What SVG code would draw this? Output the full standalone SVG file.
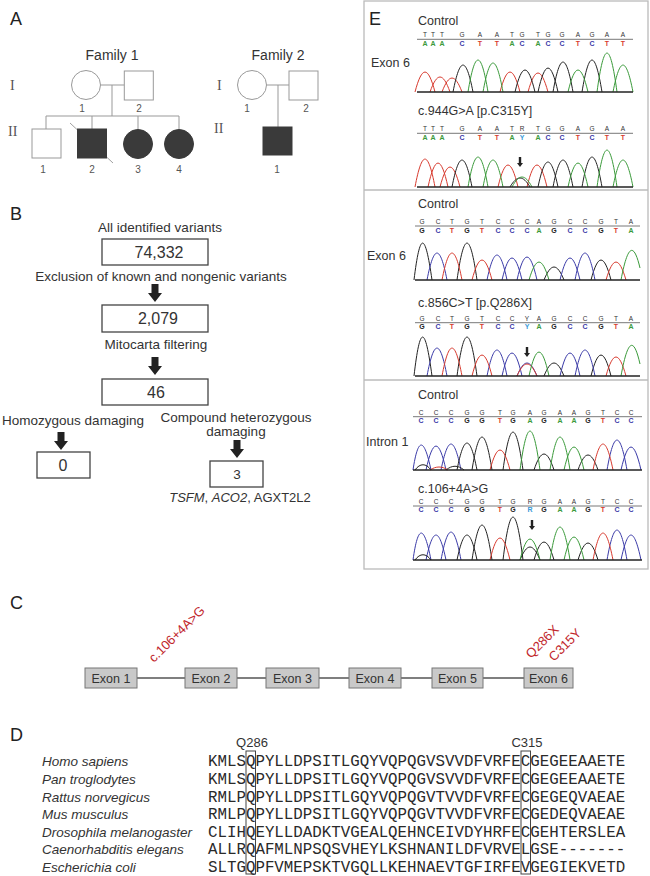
<svg xmlns="http://www.w3.org/2000/svg" width="650" height="876" viewBox="0 0 650 876">
<style>
text{font-family:"Liberation Sans",Arial,sans-serif}
.panel{font-size:18px;fill:#222}
.ped{fill:#fff;stroke:#999;stroke-width:1}
.pl{fill:none;stroke:#999;stroke-width:1}
.aff{fill:#3a3a3a;stroke:#3a3a3a;stroke-width:1}
.num{font-size:10px;fill:#555;text-anchor:middle}
.roman{font-family:"Liberation Serif","Times New Roman",serif;font-size:14px;fill:#555}
.fam{font-size:14px;text-anchor:middle;fill:#333}
.box{fill:#fff;stroke:#444;stroke-width:1.3}
.bl{font-size:13.5px;text-anchor:middle;fill:#333}
.bn{font-size:16px;text-anchor:middle;fill:#333}
.exon{fill:#c9c9c9;stroke:#777;stroke-width:1}
.et{font-size:12.5px;text-anchor:middle;fill:#333}
.mut{font-size:13px;fill:#c1272d}
.sp{font-size:13.5px;font-style:italic;fill:#333}
.seq{font-family:"Liberation Mono","Courier New",monospace;font-size:15.8px;fill:#2a2a2a}
.el{font-size:12.5px;fill:#333}
.ebox{fill:none;stroke:#bbb;stroke-width:1.3}
.tk{fill:none;stroke:#222;stroke-width:1}
.tg{fill:none;stroke:#3a9a3a;stroke-width:1}
.tr{fill:none;stroke:#d83a2e;stroke-width:1}
.tb{fill:none;stroke:#3a3aa8;stroke-width:1}
.axis{stroke:#222;stroke-width:1.6}
.sl{stroke:#555;stroke-width:0.8}
.bs{font-size:6.5px;fill:#333;text-anchor:middle}
.bb{font-size:7px;font-weight:bold;text-anchor:middle}
.cA{fill:#3a9a3a}.cC{fill:#3a3aa8}.cG{fill:#222}.cT{fill:#d83a2e}.cN{fill:#3a9ad9}
.qbox{fill:none;stroke:#444;stroke-width:1}
</style>
<defs>
<path id="bigArrow" d="M-3.5,0 H3.5 V9 H7 L0,18 L-7,9 H-3.5 Z" fill="#222"/>
<path id="smArrow" d="M-1.2,0 H1.2 V6 H3 L0,10 L-3,6 H-1.2 Z" fill="#222"/>
</defs>

<!-- Panel labels -->
<text class="panel" x="10" y="25">A</text>
<text class="panel" x="10" y="220">B</text>
<text class="panel" x="10" y="609">C</text>
<text class="panel" x="10" y="741">D</text>

<!-- Panel A -->
<text class="fam" x="112" y="60">Family 1</text>
<text class="fam" x="278" y="60">Family 2</text>
<text class="roman" x="10" y="90">I</text>
<text class="roman" x="8" y="136">II</text>
<text class="roman" x="217" y="90">I</text>
<text class="roman" x="214" y="133">II</text>

<g id="connectors">
  <line class="pl" x1="100.5" y1="85" x2="124.3" y2="85"/>
  <line class="pl" x1="112" y1="85" x2="112" y2="116"/>
  <line class="pl" x1="46" y1="116" x2="179" y2="116"/>
  <line class="pl" x1="46" y1="116" x2="46" y2="129"/>
  <line class="pl" x1="92" y1="116" x2="92" y2="129"/>
  <line class="pl" x1="138" y1="116" x2="138" y2="129.5"/>
  <line class="pl" x1="179" y1="116" x2="179" y2="129.5"/>
  <line class="pl" x1="266.5" y1="85" x2="289" y2="85"/>
  <line class="pl" x1="278" y1="85" x2="278" y2="127"/>
  <use href="#bigArrow" x="155" y="284"/>
  <use href="#bigArrow" x="155" y="357"/>
  <use href="#bigArrow" x="61" y="432"/>
  <use href="#bigArrow" x="237" y="440"/>
  <line x1="137" y1="678" x2="524" y2="678" stroke="#555" stroke-width="1.3"/>
</g>

<g id="f1-I-1"><circle class="ped" cx="86" cy="85" r="14.5"/><text class="num" x="82" y="112">1</text></g>
<g id="f1-I-2"><rect class="ped" x="124.3" y="71" width="29" height="29"/><text class="num" x="139" y="112">2</text></g>
<g id="f1-II-1"><rect class="ped" x="32" y="129" width="29" height="29"/><text class="num" x="43" y="173">1</text></g>
<g id="f1-II-2"><line x1="70" y1="123" x2="113" y2="163" stroke="#888" stroke-width="0.8"/><rect class="aff" x="77.5" y="129" width="29" height="29"/><text class="num" x="92" y="173">2</text></g>
<g id="f1-II-3"><circle class="aff" cx="138" cy="144" r="14.5"/><text class="num" x="138" y="173">3</text></g>
<g id="f1-II-4"><circle class="aff" cx="179" cy="144" r="14.5"/><text class="num" x="179" y="173">4</text></g>
<g id="f2-I-1"><circle class="ped" cx="252" cy="85" r="14.5"/><text class="num" x="247" y="112">1</text></g>
<g id="f2-I-2"><rect class="ped" x="289" y="71" width="29" height="29"/><text class="num" x="306" y="112">2</text></g>
<g id="f2-II-1"><rect class="aff" x="263" y="127" width="29" height="28"/><text class="num" x="277" y="173">1</text></g>

<!-- Panel B -->
<g id="b-all"><text class="bl" x="160" y="232">All identified variants</text><rect class="box" x="102" y="239" width="106" height="26"/><text class="bn" x="159" y="258">74,332</text></g>
<g id="b-excl"><text class="bl" x="161" y="281">Exclusion of known and nongenic variants</text><rect class="box" x="102" y="305" width="106" height="27"/><text class="bn" x="158" y="324">2,079</text></g>
<g id="b-mito"><text class="bl" x="156" y="349">Mitocarta filtering</text><rect class="box" x="102" y="379" width="106" height="26"/><text class="bn" x="156" y="398">46</text></g>
<g id="b-homo"><text class="bl" x="73" y="425">Homozygous damaging</text><rect class="box" x="37" y="452" width="53" height="26"/><text class="bn" x="63" y="471">0</text></g>
<g id="b-comp"><text class="bl" x="236" y="422">Compound heterozygous</text><text class="bl" x="236" y="436">damaging</text><rect class="box" x="210" y="461" width="53" height="26"/><text class="bl" x="237" y="479">3</text><text class="bl" x="240" y="502" style="font-size:13px"><tspan font-style="italic">TSFM</tspan>, <tspan font-style="italic">ACO2</tspan>, AGXT2L2</text></g>

<!-- Panel E -->
<g id="panelE">
<rect class="ebox" x="364" y="1" width="284" height="568"/>
<line class="ebox" x1="364" y1="190" x2="648" y2="190"/>
<line class="ebox" x1="364" y1="380" x2="648" y2="380"/>
<text class="panel" x="369" y="25">E</text>
</g>

<g id="e-exon6-c315y">
<text class="el" x="418" y="25">Control</text>
<text class="el" x="371" y="67">Exon 6</text>
<line class="sl" x1="417" y1="39.3" x2="633" y2="39.3"/>
<text class="bs" x="425 433 442 462 480 497 512 522 538 548 562 578 592 607 623" y="37">TTTGAATGTGGAGAA</text>
<text class="bb" y="45.5"><tspan x="425" class="cA">A</tspan><tspan x="433" class="cA">A</tspan><tspan x="442" class="cA">A</tspan><tspan x="462" class="cC">C</tspan><tspan x="480" class="cT">T</tspan><tspan x="497" class="cT">T</tspan><tspan x="512" class="cA">A</tspan><tspan x="522" class="cC">C</tspan><tspan x="538" class="cA">A</tspan><tspan x="548" class="cC">C</tspan><tspan x="562" class="cC">C</tspan><tspan x="578" class="cT">T</tspan><tspan x="592" class="cC">C</tspan><tspan x="607" class="cT">T</tspan><tspan x="623" class="cT">T</tspan></text>
<path class="tr" d="M415,92 C422,65.4 428,65.4 435,92 M430,92 C437,72 443,72 450,92 M442,92 C449,73.4 455,73.4 462,92 M500,92 C507,65.4 513,65.4 520,92 M528,92 C535,66.7 541,66.7 548,92"/>
<path class="tk" d="M453,92 C460,56.1 466,56.1 473,92 M515,92 C522,62.7 528,62.7 535,92 M538,92 C545,60.1 551,60.1 558,92 M553,92 C560,52.1 566,52.1 573,92 M582,92 C589,49.4 595,49.4 602,92"/>
<path class="tg" d="M468,92 C475,49.4 481,49.4 488,92 M483,92 C490,53.4 496,53.4 503,92 M568,92 C575,62.7 581,62.7 588,92 M597,92 C604,40.1 610,40.1 617,92 M613,92 C620,56.1 626,56.1 633,92"/>
<line class="axis" x1="417" y1="92" x2="633" y2="92"/>

<text class="el" x="418" y="115">c.944G&gt;A [p.C315Y]</text>
<line class="sl" x1="417" y1="133.3" x2="633" y2="133.3"/>
<text class="bs" x="425 433 442 462 480 497 512 522 538 548 562 578 592 607 623" y="131">TTTGAATRTGGAGAA</text>
<text class="bb" y="139.5"><tspan x="425" class="cA">A</tspan><tspan x="433" class="cA">A</tspan><tspan x="442" class="cA">A</tspan><tspan x="462" class="cC">C</tspan><tspan x="480" class="cT">T</tspan><tspan x="497" class="cT">T</tspan><tspan x="512" class="cA">A</tspan><tspan x="522" class="cN">Y</tspan><tspan x="538" class="cA">A</tspan><tspan x="548" class="cC">C</tspan><tspan x="562" class="cC">C</tspan><tspan x="578" class="cT">T</tspan><tspan x="592" class="cC">C</tspan><tspan x="607" class="cT">T</tspan><tspan x="623" class="cT">T</tspan></text>
<path class="tr" d="M415,187 C422,149.8 428,149.8 435,187 M428,187 C435,155.1 441,155.1 448,187 M440,187 C447,160.4 453,160.4 460,187 M498,187 C505,157.7 511,157.7 518,187 M527,187 C534,157.7 540,157.7 547,187"/>
<path class="tk" d="M452,187 C459,151.1 465,151.1 472,187 M510,187 C517,175 523,175 530,187 M538,187 C545,153.75 551,153.75 558,187 M553,187 C560,151.1 566,151.1 573,187 M582,187 C589,147.1 595,147.1 602,187"/>
<path class="tg" d="M468,187 C475,147.1 481,147.1 488,187 M483,187 C490,151.1 496,151.1 503,187 M512,187 C519,173.7 525,173.7 532,187 M568,187 C575,155.1 581,155.1 588,187 M597,187 C604,137.8 610,137.8 617,187 M613,187 C620,151.1 626,151.1 633,187"/>
<line class="axis" x1="417" y1="187" x2="633" y2="187"/>
<use href="#smArrow" x="520" y="157"/>
</g>

<g id="e-exon6-q286x">
<text class="el" x="418" y="208">Control</text>
<text class="el" x="367" y="260">Exon 6</text>
<line class="sl" x1="415" y1="226" x2="640" y2="226"/>
<text class="bs" x="422 438 452 467 482 498 512 527 539 554 570 585 601 616 631" y="224">GCTGTCCCAGCCGTA</text>
<text class="bb" y="232.5"><tspan x="422" class="cG">G</tspan><tspan x="438" class="cC">C</tspan><tspan x="452" class="cT">T</tspan><tspan x="467" class="cG">G</tspan><tspan x="482" class="cT">T</tspan><tspan x="498" class="cC">C</tspan><tspan x="512" class="cC">C</tspan><tspan x="527" class="cC">C</tspan><tspan x="539" class="cA">A</tspan><tspan x="554" class="cG">G</tspan><tspan x="570" class="cC">C</tspan><tspan x="585" class="cC">C</tspan><tspan x="601" class="cG">G</tspan><tspan x="616" class="cT">T</tspan><tspan x="631" class="cA">A</tspan></text>
<path class="tk" d="M414,280 C420,230.8 425,230.8 432,280 M457,280 C464,230.8 470,230.8 477,280 M544,280 C551,262.7 557,262.7 564,280 M591,280 C598,253.4 604,253.4 611,280"/>
<path class="tb" d="M427,280 C434,244.1 440,244.1 447,280 M487,280 C494,246.75 500,246.75 507,280 M502,280 C509,250.7 515,250.7 522,280 M517,280 C524,249.4 530,249.4 537,280 M560,280 C567,250.7 573,250.7 580,280 M575,280 C582,244.1 588,244.1 595,280"/>
<path class="tr" d="M442,280 C449,244.1 455,244.1 462,280 M472,280 C479,253.4 485,253.4 492,280 M606,280 C613,256.1 619,256.1 626,280"/>
<path class="tg" d="M529,280 C536,256.1 542,256.1 549,280 M621,280 C628,242.8 634,242.8 640,268"/>
<line class="axis" x1="415" y1="280" x2="640" y2="280"/>

<text class="el" x="418" y="307">c.856C&gt;T [p.Q286X]</text>
<line class="sl" x1="415" y1="322.7" x2="640" y2="322.7"/>
<text class="bs" x="422 438 452 467 482 498 512 527 539 554 570 585 601 616 631" y="321">GCTGTCCYAGCCGTA</text>
<text class="bb" y="329"><tspan x="422" class="cG">G</tspan><tspan x="438" class="cC">C</tspan><tspan x="452" class="cT">T</tspan><tspan x="467" class="cG">G</tspan><tspan x="482" class="cT">T</tspan><tspan x="498" class="cC">C</tspan><tspan x="512" class="cC">C</tspan><tspan x="527" class="cN">Y</tspan><tspan x="539" class="cA">A</tspan><tspan x="554" class="cG">G</tspan><tspan x="570" class="cC">C</tspan><tspan x="585" class="cC">C</tspan><tspan x="601" class="cG">G</tspan><tspan x="616" class="cT">T</tspan><tspan x="631" class="cA">A</tspan></text>
<path class="tk" d="M414,376 C420,324.1 425,324.1 432,376 M457,376 C464,324.1 470,324.1 477,376 M544,376 C551,358.7 557,358.7 564,376 M591,376 C598,348.1 604,348.1 611,376"/>
<path class="tb" d="M427,376 C434,338.8 440,338.8 447,376 M487,376 C494,341.4 500,341.4 507,376 M502,376 C509,345.4 515,345.4 522,376 M517,376 C524,358.7 530,358.7 537,376 M560,376 C567,345.4 573,345.4 580,376 M575,376 C582,341.4 588,341.4 595,376"/>
<path class="tr" d="M442,376 C449,338.8 455,338.8 462,376 M472,376 C479,348.1 485,348.1 492,376 M517,376 C524,360 530,360 537,376 M606,376 C613,350.7 619,350.7 626,376"/>
<path class="tg" d="M529,376 C536,344.1 542,344.1 549,376 M621,376 C628,337.4 634,337.4 640,364"/>
<line class="axis" x1="415" y1="376" x2="640" y2="376"/>
<use href="#smArrow" x="527" y="347"/>
</g>

<g id="e-intron1">
<text class="el" x="418" y="399">Control</text>
<text class="el" x="366" y="446">Intron 1</text>
<line class="sl" x1="413" y1="416.7" x2="642" y2="416.7"/>
<text class="bs" x="421 436 451 467 482 500 513 530 544 560 574 588 603 617 631" y="415">CCCGGTGAGAAGTCC</text>
<text class="bb" y="423"><tspan x="421" class="cC">C</tspan><tspan x="436" class="cC">C</tspan><tspan x="451" class="cC">C</tspan><tspan x="467" class="cG">G</tspan><tspan x="482" class="cG">G</tspan><tspan x="500" class="cT">T</tspan><tspan x="513" class="cG">G</tspan><tspan x="530" class="cA">A</tspan><tspan x="544" class="cG">G</tspan><tspan x="560" class="cA">A</tspan><tspan x="574" class="cA">A</tspan><tspan x="588" class="cG">G</tspan><tspan x="603" class="cT">T</tspan><tspan x="617" class="cC">C</tspan><tspan x="631" class="cC">C</tspan></text>
<path class="tb" d="M413,470 C418,436.75 424,436.75 431,470 M426,470 C433,438.1 439,438.1 446,470 M441,470 C448,435.4 454,435.4 461,470 M607,470 C614,430.1 620,430.1 627,470 M621,470 C628,439.4 634,439.4 641,470"/>
<path class="tk" d="M457,470 C464,434.1 470,434.1 477,470 M472,470 C479,426.1 485,426.1 492,470 M503,470 C510,419.5 516,419.5 523,470 M534,470 C541,448.7 547,448.7 554,470 M578,470 C585,450 591,450 598,470 M415,470 C420,463 426,463 431,470 M446,470 C452,465 458,465 464,470"/>
<path class="tr" d="M490,470 C497,443.4 503,443.4 510,470 M593,470 C600,435.4 606,435.4 613,470 M430,470 C436,466 442,466 448,470"/>
<path class="tg" d="M520,470 C527,418.1 533,418.1 540,470 M550,470 C557,426.1 563,426.1 570,470 M564,470 C571,439.4 577,439.4 584,470"/>
<line class="axis" x1="413" y1="470" x2="642" y2="470"/>

<text class="el" x="418" y="493">c.106+4A&gt;G</text>
<line class="sl" x1="413" y1="506" x2="642" y2="506"/>
<text class="bs" x="421 436 451 467 482 500 513 530 544 560 574 588 603 617 631" y="504">CCCGGTGRGAAGTCC</text>
<text class="bb" y="512"><tspan x="421" class="cC">C</tspan><tspan x="436" class="cC">C</tspan><tspan x="451" class="cC">C</tspan><tspan x="467" class="cG">G</tspan><tspan x="482" class="cG">G</tspan><tspan x="500" class="cT">T</tspan><tspan x="513" class="cG">G</tspan><tspan x="530" class="cN">R</tspan><tspan x="544" class="cG">G</tspan><tspan x="560" class="cA">A</tspan><tspan x="574" class="cA">A</tspan><tspan x="588" class="cG">G</tspan><tspan x="603" class="cT">T</tspan><tspan x="617" class="cC">C</tspan><tspan x="631" class="cC">C</tspan></text>
<path class="tb" d="M413,560 C418,524.1 424,524.1 431,560 M426,560 C433,526.75 439,526.75 446,560 M441,560 C448,522.8 454,522.8 461,560 M607,560 C614,520.1 620,520.1 627,560 M621,560 C628,526.75 634,526.75 641,560"/>
<path class="tk" d="M457,560 C464,526.75 470,526.75 477,560 M472,560 C479,513.45 485,513.45 492,560 M503,560 C510,502.8 516,502.8 523,560 M520,560 C527,542.7 533,542.7 540,560 M534,560 C541,536.1 547,536.1 554,560 M578,560 C585,537.4 591,537.4 598,560 M415,560 C420,553 426,553 431,560"/>
<path class="tr" d="M490,560 C497,530.7 503,530.7 510,560 M593,560 C600,524.1 606,524.1 613,560"/>
<path class="tg" d="M520,560 C527,532.1 533,532.1 540,560 M550,560 C557,516.1 563,516.1 570,560 M564,560 C571,529.4 577,529.4 584,560"/>
<line class="axis" x1="413" y1="560" x2="642" y2="560"/>
<use href="#smArrow" x="532" y="520"/>
</g>

<!-- Panel C -->
<g id="exon1"><rect class="exon" x="85" y="668" width="52" height="20"/><text class="et" x="111" y="683">Exon 1</text></g>
<g id="exon2"><rect class="exon" x="185" y="668" width="52" height="20"/><text class="et" x="211" y="683">Exon 2</text></g>
<g id="exon3"><rect class="exon" x="266" y="668" width="53" height="20"/><text class="et" x="292.5" y="683">Exon 3</text></g>
<g id="exon4"><rect class="exon" x="349" y="668" width="52" height="20"/><text class="et" x="375" y="683">Exon 4</text></g>
<g id="exon5"><rect class="exon" x="432" y="668" width="51" height="20"/><text class="et" x="457.5" y="683">Exon 5</text></g>
<g id="exon6"><rect class="exon" x="524" y="668" width="49" height="20"/><text class="et" x="548.5" y="683">Exon 6</text></g>
<text class="mut" transform="translate(154,663) rotate(-45)">c.106+4A&gt;G</text>
<text class="mut" transform="translate(531,659) rotate(-45)">Q286X</text>
<text class="mut" transform="translate(554,662) rotate(-45)">C315Y</text>

<!-- Panel D -->
<g id="alignment">
<text class="el" x="252" y="747" text-anchor="middle" style="font-size:13px">Q286</text>
<text class="el" x="527" y="747" text-anchor="middle" style="font-size:13px">C315</text>
<text class="sp" x="42" y="766">Homo sapiens</text>
<text class="sp" x="42" y="784">Pan troglodytes</text>
<text class="sp" x="42" y="802">Rattus norvegicus</text>
<text class="sp" x="42" y="819">Mus musculus</text>
<text class="sp" x="42" y="837">Drosophila melanogaster</text>
<text class="sp" x="42" y="854">Caenorhabditis elegans</text>
<text class="sp" x="42" y="872">Escherichia coli</text>
<text class="seq" x="208" y="766">KMLSQPYLLDPSITLGQYVQPQGVSVVDFVRFECGEGEEAAETE</text>
<text class="seq" x="208" y="784">KMLSQPYLLDPSITLGQYVQPQGVSVVDFVRFECGEGEEAAETE</text>
<text class="seq" x="208" y="802">RMLPQPYLLDPSITLGQYVQPQGVTVVDFVRFECGEGEQVAEAE</text>
<text class="seq" x="208" y="819">RMLPQPYLLDPSITLGQYVQPQGVTVVDFVRFECGEDEQVAEAE</text>
<text class="seq" x="208" y="837">CLIHQEYLLDADKTVGEALQEHNCEIVDYHRFECGEHTERSLEA</text>
<text class="seq" x="208" y="854">ALLRQAFMLNPSQSVHEYLKSHNANILDFVRVELGSE-------</text>
<text class="seq" x="208" y="872">SLTGQPFVMEPSKTVGQLLKEHNAEVTGFIRFEVGEGIEKVETD</text>
<rect class="qbox" x="246" y="751" width="9.5" height="123"/>
<rect class="qbox" x="521" y="751" width="9.5" height="123"/>
</g>
</svg>
